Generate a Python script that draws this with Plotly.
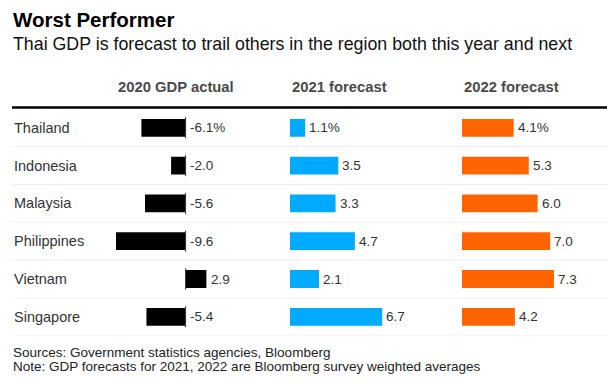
import plotly.graph_objects as go

# ---- data ----
countries = ["Thailand", "Indonesia", "Malaysia", "Philippines", "Vietnam", "Singapore"]
gdp_2020 = [-6.1, -2.0, -5.6, -9.6, 2.9, -5.4]
fc_2021 = [1.1, 3.5, 3.3, 4.7, 2.1, 6.7]
fc_2022 = [4.1, 5.3, 6.0, 7.0, 7.3, 4.2]
headers = ["2020 GDP actual", "2021 forecast", "2022 forecast"]
title = "Worst Performer"
subtitle = "Thai GDP is forecast to trail others in the region both this year and next"
notes = ["Sources: Government statistics agencies, Bloomberg",
         "Note: GDP forecasts for 2021, 2022 are Bloomberg survey weighted averages"]

# ---- layout constants ----
W, H = 607, 383
FONT = "Arial, Liberation Sans, sans-serif"
colors = ["#000000", "#00aaff", "#ff6400"]
series = [gdp_2020, fc_2021, fc_2022]
starts_px = [116, 290, 462]          # left pixel of each panel
px_per_unit = [7.25, 13.8, 12.6]     # horizontal scale of each panel
row_top_px, row_bot_px = 108.9, 335.7

def px_x(p):
    return p / W

def px_y(p):
    return 1 - p / H

fig = go.Figure()
annotations = []
shapes = []

for i, (vals, col) in enumerate(zip(series, colors)):
    ax = "x" if i == 0 else f"x{i+1}"
    lo = min(0, min(vals))
    hi = max(0, max(vals))
    d0 = starts_px[i]
    d1 = d0 + (hi - lo) * px_per_unit[i]
    axis_name = "xaxis" if i == 0 else f"xaxis{i+1}"
    fig.update_layout(**{axis_name: dict(domain=[px_x(d0), px_x(d1)], range=[lo, hi],
                                         visible=False, fixedrange=True)})
    fig.add_trace(go.Bar(x=vals, y=countries, orientation="h", marker=dict(color=col, line=dict(width=0)),
                         width=0.47, xaxis=ax, yaxis="y", hoverinfo="skip", showlegend=False))
    for j, v in enumerate(vals):
        txt = f"{v:.1f}" + ("%" if j == 0 else "")
        annotations.append(dict(x=max(v, 0), y=countries[j], xref=ax, yref="y", text=txt,
                                showarrow=False, xanchor="left", yanchor="middle", xshift=2,
                                font=dict(family=FONT, size=13.5, color="#333333")))
    annotations.append(dict(x=px_x(d0), y=px_y(87), xref="paper", yref="paper",
                            text=f"<b>{headers[i]}</b>", showarrow=False, xanchor="left",
                            yanchor="middle", font=dict(family=FONT, size=14.8, color="#4a4a4a")))

# zero line segments for the first panel
for j, c in enumerate(countries):
    shapes.append(dict(type="line", xref="x", yref="y", x0=0, x1=0, y0=j - 0.28, y1=j + 0.28,
                       line=dict(color="#333333", width=1), layer="above"))

# row separators
for j in range(len(countries)):
    shapes.append(dict(type="line", xref="paper", yref="y", x0=px_x(12), x1=1,
                       y0=j + 0.5, y1=j + 0.5, line=dict(color="#efefef", width=1), layer="below"))

# heavy rule under headers
shapes.append(dict(type="line", xref="paper", yref="paper", x0=px_x(12), x1=1,
                   y0=px_y(107.5), y1=px_y(107.5), line=dict(color="#000000", width=2.5)))

# row labels
for c in countries:
    annotations.append(dict(x=px_x(12), y=c, xref="paper", yref="y", text=c, showarrow=False,
                            xanchor="left", yanchor="middle",
                            font=dict(family=FONT, size=14.5, color="#333333")))

# title, subtitle, notes
annotations.append(dict(x=px_x(11), y=px_y(19), xref="paper", yref="paper", text=f"<b>{title}</b>",
                        showarrow=False, xanchor="left", yanchor="middle",
                        font=dict(family=FONT, size=20.5, color="#000000")))
annotations.append(dict(x=px_x(11), y=px_y(44), xref="paper", yref="paper", text=subtitle,
                        showarrow=False, xanchor="left", yanchor="middle",
                        font=dict(family=FONT, size=17.8, color="#111111")))
for k, (n, yp) in enumerate(zip(notes, [352, 366])):
    annotations.append(dict(x=px_x(11), y=px_y(yp), xref="paper", yref="paper", text=n,
                            showarrow=False, xanchor="left", yanchor="middle",
                            font=dict(family=FONT, size=13.5, color="#222222")))

fig.update_layout(
    width=W, height=H,
    margin=dict(l=0, r=0, t=0, b=0),
    paper_bgcolor="white", plot_bgcolor="white",
    barmode="overlay",
    yaxis=dict(type="category", categoryorder="array", categoryarray=countries,
               range=[len(countries) - 0.5, -0.5],
               domain=[px_y(row_bot_px), px_y(row_top_px)],
               visible=False, fixedrange=True),
    annotations=annotations, shapes=shapes,
    showlegend=False,
)

fig.write_html("out.html", config={"displayModeBar": False},
               post_script="document.body.style.margin='0';document.body.style.overflow='hidden';")
